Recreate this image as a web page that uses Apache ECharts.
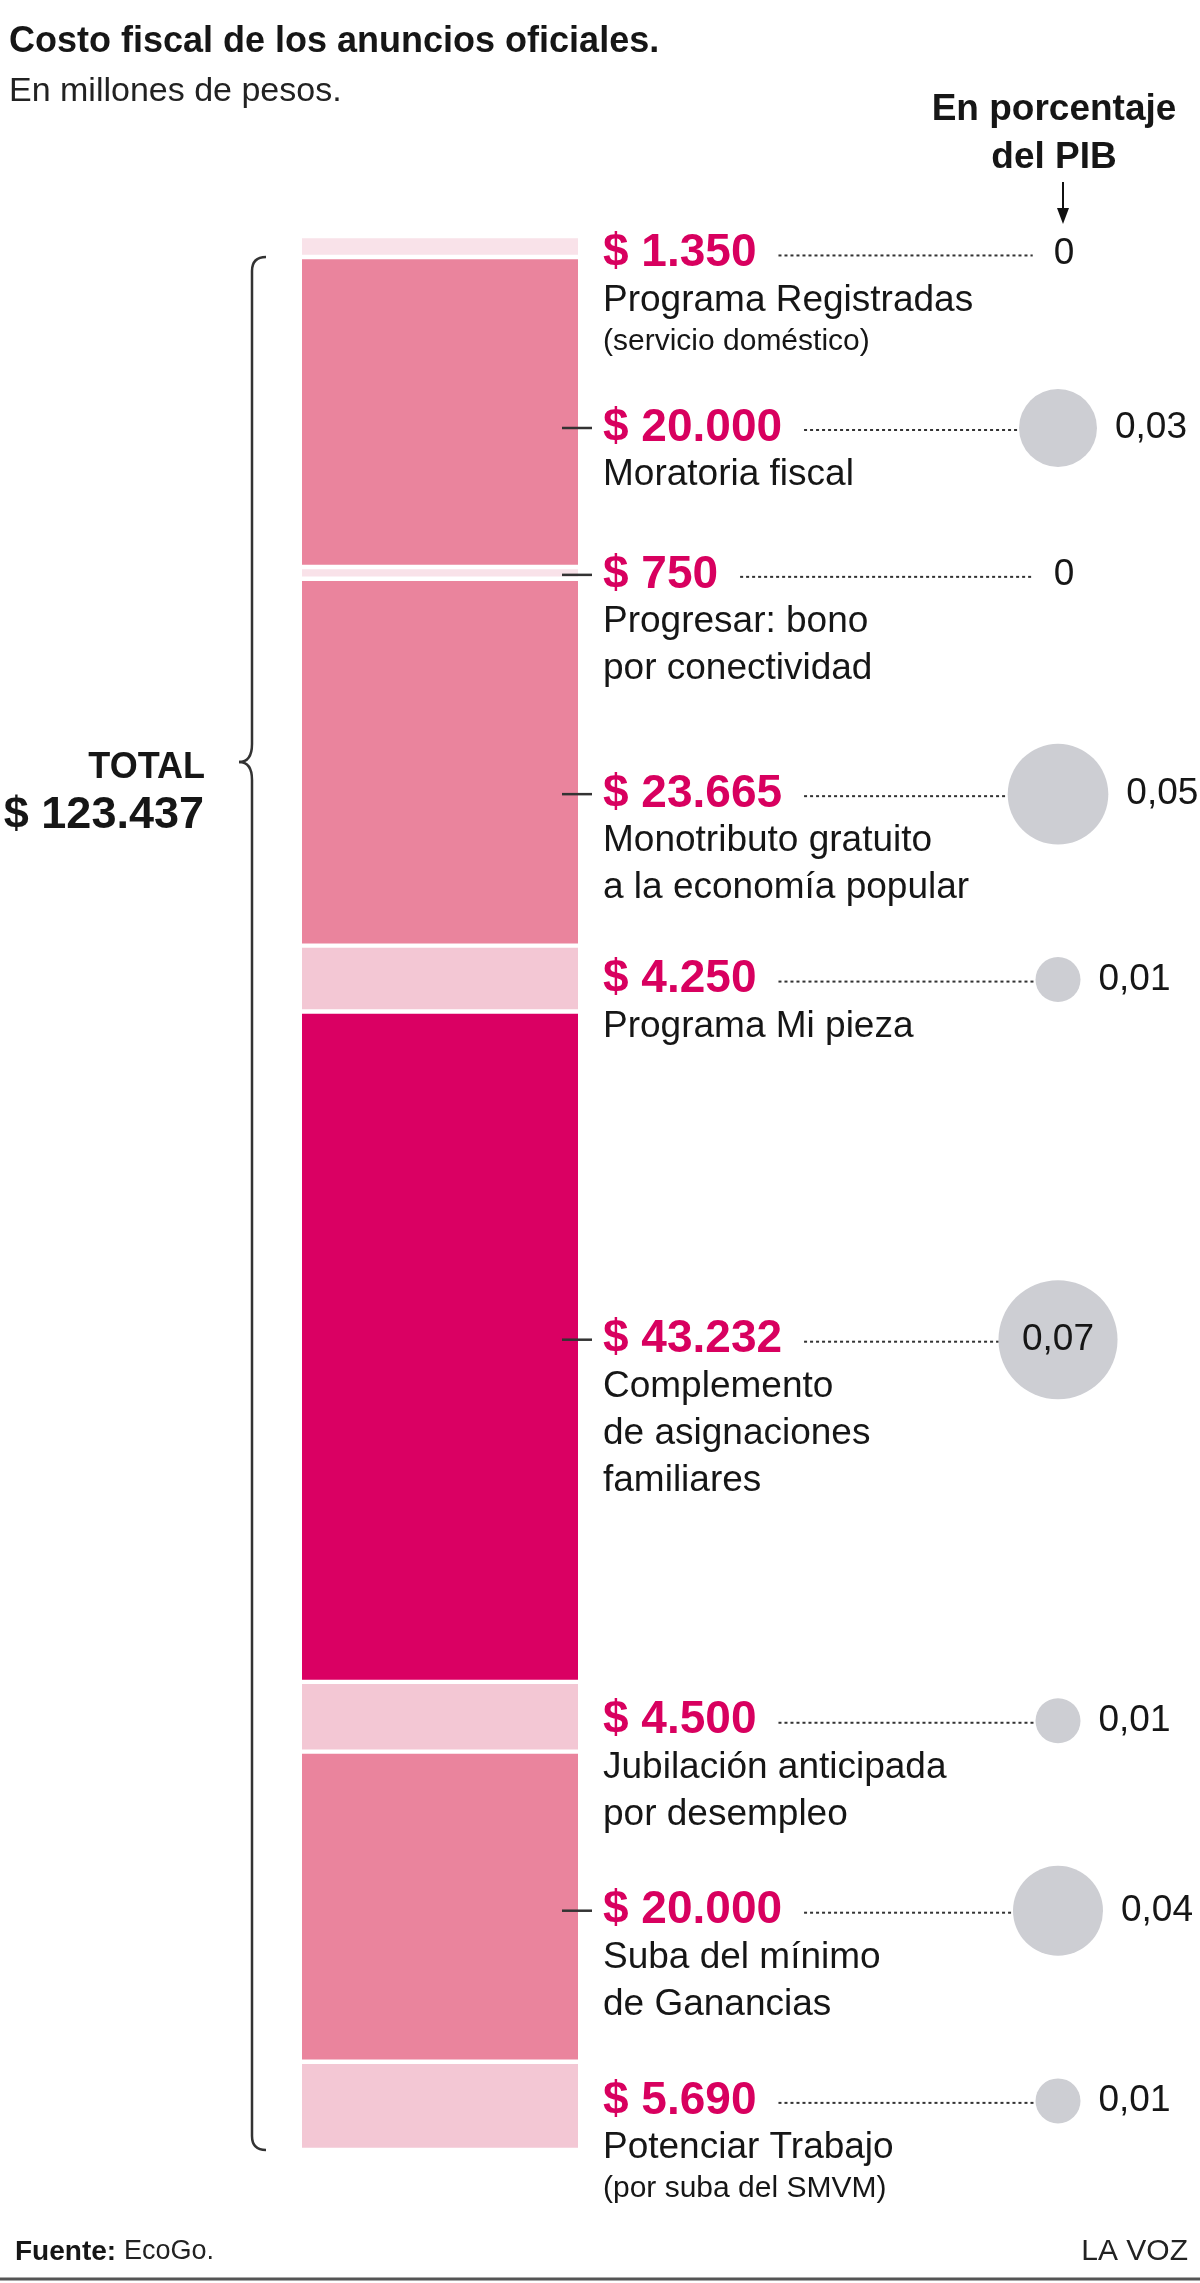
<!DOCTYPE html>
<html>
<head>
<meta charset="utf-8">
<script src="https://cdn.jsdelivr.net/npm/echarts@6/dist/echarts.min.js"></script>
<style>
  html, body { margin: 0; padding: 0; background: #fff; }
  #chart { width: 1200px; height: 2283px; }
</style>
</head>
<body>
<div id="chart"></div>
<script>
// montos en millones de pesos, de arriba hacia abajo
const amounts = [1350, 20000, 750, 23665, 4250, 43232, 4500, 20000, 5690];
// costo en porcentaje del PIB
const pctGdp = [0, 0.03, 0, 0.05, 0.01, 0.07, 0.01, 0.04, 0.01];
const nameLines = [
  ['Programa Registradas'],
  ['Moratoria fiscal'],
  ['Progresar: bono', 'por conectividad'],
  ['Monotributo gratuito', 'a la economía popular'],
  ['Programa Mi pieza'],
  ['Complemento', 'de asignaciones', 'familiares'],
  ['Jubilación anticipada', 'por desempleo'],
  ['Suba del mínimo', 'de Ganancias'],
  ['Potenciar Trabajo']
];
const notes = ['(servicio doméstico)', '', '', '', '', '', '', '', '(por suba del SMVM)'];

// estilo de cada tramo
const tones = ['pale', 'mid', 'pale', 'mid', 'light', 'dark', 'light', 'mid', 'light'];
const tickOn = [false, true, true, true, false, true, false, true, false];
const labelShift = [7, 16, 2, 32, 1, -7, 4, 4, -5];

const palette = { pale: '#F9E2E9', mid: '#EA849D', light: '#F3C7D4', dark: '#DA0063' };
const MAGENTA = '#D8005F';
const INK = '#161616';
const FONT = '"Liberation Sans", Arial, sans-serif';
const VAL_FONT = 'bold 46px ' + FONT;
const NAME_FONT = '37px ' + FONT;
const NOTE_FONT = '30px ' + FONT;
const PCT_FONT = '37px ' + FONT;
const CIRCLE_X = 1058;
const ZERO_X = 1064;
const LINE_STEP = 47;

const total = amounts.reduce((a, b) => a + b, 0);
const cum = [0];
amounts.forEach((v, i) => cum.push(cum[i] + v));
const segData = amounts.map((v, i) => [0, cum[i], cum[i + 1], v, pctGdp[i]]);

const measureCtx = document.createElement('canvas').getContext('2d');
function textW(text, font) {
  measureCtx.font = font;
  return measureCtx.measureText(text).width;
}
function miles(v) {
  return String(v).replace(/\B(?=(\d{3})+(?!\d))/g, '.');
}
function pctText(p) {
  return p === 0 ? '0' : p.toFixed(2).replace('.', ',');
}
function txt(x, y, text, font, fill, align) {
  return {
    type: 'text', x: x, y: y,
    style: { text: text, font: font, fill: fill, align: align || 'left', verticalAlign: 'middle',
      textAlign: align || 'left', textVerticalAlign: 'middle' }
  };
}

function renderItem(params, api) {
  const i = params.dataIndex;
  const a = api.coord([0, api.value(1)]);
  const b = api.coord([1, api.value(2)]);
  const children = [];
  children.push({
    type: 'rect',
    shape: { x: a[0], y: a[1] + 2.2, width: b[0] - a[0], height: b[1] - a[1] - 4.4 },
    style: { fill: palette[tones[i]] }
  });

  const ly = (a[1] + b[1]) / 2 + labelShift[i];
  const lx = b[0] + 25;
  if (tickOn[i]) {
    children.push({
      type: 'line',
      shape: { x1: b[0] - 16, y1: ly, x2: b[0] + 14, y2: ly },
      style: { stroke: '#333', lineWidth: 2.5 }
    });
  }
  const valText = '$ ' + miles(api.value(3));
  children.push(txt(lx, ly, valText, VAL_FONT, MAGENTA));

  let y = ly;
  nameLines[i].forEach(line => {
    y += LINE_STEP;
    children.push(txt(lx, y, line, NAME_FONT, INK));
  });
  if (notes[i]) {
    y += 41;
    children.push(txt(lx, y, notes[i], NOTE_FONT, INK));
  }

  // linea punteada y circulo del PIB
  const p = api.value(4);
  const pt = pctText(p);
  const pw = textW(pt, PCT_FONT);
  const xs = lx + textW(valText, VAL_FONT) + 22;
  let xe;
  if (p > 0) {
    const r = 22.5 * Math.sqrt(p / 0.01);
    xe = CIRCLE_X - r;
    children.push({ type: 'circle', shape: { cx: CIRCLE_X, cy: ly, r: r }, style: { fill: '#CDCED3' } });
    if (2 * r > pw * 1.6) {
      children.push(txt(CIRCLE_X, ly, pt, PCT_FONT, INK, 'center'));
    } else {
      children.push(txt(CIRCLE_X + r + 18, ly, pt, PCT_FONT, INK));
    }
  } else {
    xe = ZERO_X - pw / 2 - 21;
    children.push(txt(ZERO_X, ly, pt, PCT_FONT, INK, 'center'));
  }
  children.push({
    type: 'line',
    shape: { x1: xs, y1: ly + 2, x2: xe, y2: ly + 2 },
    style: { stroke: '#333', lineWidth: 2, lineDash: [3, 3] }
  });

  return { type: 'group', children: children };
}

const chart = echarts.init(document.getElementById('chart'));
chart.setOption({
  animation: false,
  backgroundColor: '#fff',
  title: {
    text: 'Costo fiscal de los anuncios oficiales.',
    subtext: 'En millones de pesos.',
    left: 4,
    top: 19,
    itemGap: 15,
    textStyle: { fontFamily: FONT, fontSize: 36, fontWeight: 'bold', color: INK },
    subtextStyle: { fontFamily: FONT, fontSize: 34, color: '#222' }
  },
  grid: { left: 302, right: 622, top: 236, bottom: 133 },
  xAxis: { type: 'value', min: 0, max: 1, show: false },
  yAxis: { type: 'value', min: 0, max: total, inverse: true, show: false },
  series: [{
    type: 'custom',
    renderItem: renderItem,
    encode: { x: 0, y: [1, 2] },
    clip: false,
    data: segData
  }]
});

// llave, total y textos fijos
const braceTop = chart.convertToPixel({ yAxisIndex: 0 }, cum[1]);
const braceBot = chart.convertToPixel({ yAxisIndex: 0 }, total);
const bx = 252, tipX = 239, tipY = 762;
const braceStyle = { fill: null, stroke: '#333', lineWidth: 2.5 };
function curve(x1, y1, cx, cy, x2, y2) {
  return { type: 'bezierCurve', shape: { x1: x1, y1: y1, x2: x2, y2: y2, cpx1: cx, cpy1: cy }, style: braceStyle };
}
function seg(x1, y1, x2, y2) {
  return { type: 'line', shape: { x1: x1, y1: y1, x2: x2, y2: y2 }, style: braceStyle };
}
const brace = [
  curve(bx + 14, braceTop, bx, braceTop, bx, braceTop + 14),
  seg(bx, braceTop + 14, bx, tipY - 18),
  curve(bx, tipY - 18, bx, tipY, tipX, tipY),
  curve(tipX, tipY, bx, tipY, bx, tipY + 18),
  seg(bx, tipY + 18, bx, braceBot - 14),
  curve(bx, braceBot - 14, bx, braceBot, bx + 14, braceBot)
];

const fuenteW = textW('Fuente: ', 'bold 28px ' + FONT);

chart.setOption({
  graphic: [
    txt(1054, 110, 'En porcentaje', 'bold 37px ' + FONT, INK, 'center'),
    txt(1054, 158, 'del PIB', 'bold 37px ' + FONT, INK, 'center'),
    { type: 'line', shape: { x1: 1063, y1: 182, x2: 1063, y2: 212 }, style: { stroke: '#111', lineWidth: 2 } },
    { type: 'polygon', shape: { points: [[1057, 208], [1069, 208], [1063, 224]] }, style: { fill: '#111' } },
    txt(205, 768, 'TOTAL', 'bold 36px ' + FONT, INK, 'right'),
    txt(204, 816, '$ ' + miles(total), 'bold 45px ' + FONT, INK, 'right'),
    txt(15, 2252, 'Fuente:', 'bold 28px ' + FONT, INK),
    txt(15 + fuenteW, 2252, 'EcoGo.', '27px ' + FONT, '#222'),
    txt(1188, 2252, 'LA VOZ', '30px ' + FONT, '#222', 'right'),
    { type: 'line', shape: { x1: 0, y1: 2279, x2: 1200, y2: 2279 }, style: { stroke: '#555', lineWidth: 3 } }
  ].concat(brace)
});
</script>
</body>
</html>
